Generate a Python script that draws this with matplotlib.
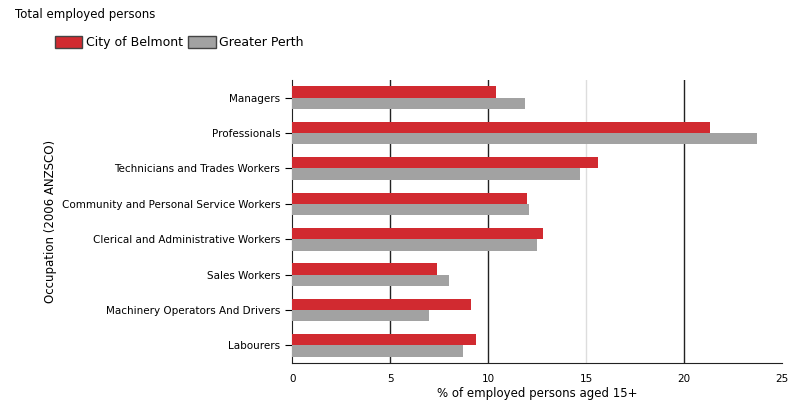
import numpy as np
import matplotlib.pyplot as plt
from matplotlib.patches import Patch

categories = ["Managers", "Professionals", "Technicians and Trades Workers",
              "Community and Personal Service Workers", "Clerical and Administrative Workers",
              "Sales Workers", "Machinery Operators And Drivers", "Labourers"]
belmont = [10.4, 21.3, 15.6, 12.0, 12.8, 7.4, 9.1, 9.4]
perth = [11.9, 23.7, 14.7, 12.1, 12.5, 8.0, 7.0, 8.7]

red = "#d12a30"
grey = "#a2a2a2"

fig = plt.figure(figsize=(7.94, 4.08), dpi=100)
ax = fig.add_axes([0.368, 0.11, 0.617, 0.694])

y = np.arange(len(categories))
h = 0.32
ax.barh(y - h / 2, belmont, height=h, color=red, zorder=3)
ax.barh(y + h / 2, perth, height=h, color=grey, zorder=3)

ax.set_ylim(len(categories) - 0.5, -0.5)
ax.set_xlim(0, 25)
ax.set_xticks([0, 5, 10, 15, 20, 25])
ax.set_yticks(y)
ax.set_yticklabels(categories, fontsize=7.5)
ax.tick_params(axis="x", labelsize=7.5, length=0, pad=8)
ax.tick_params(axis="y", length=5)
for v in [5, 10, 20]:
    ax.axvline(v, color="#222222", lw=1, zorder=1)
ax.axvline(15, color="#dddddd", lw=1, zorder=1)

for s in ["top", "right"]:
    ax.spines[s].set_visible(False)
ax.spines["left"].set_color("#222222")
ax.spines["bottom"].set_color("#222222")

ax.set_xlabel("% of employed persons aged 15+", fontsize=8.5, labelpad=2)
ax.set_ylabel("Occupation (2006 ANZSCO)", fontsize=8.5)
ax.yaxis.set_label_coords(-0.48, 0.5)

fig.text(0.019, 0.965, "Total employed persons", fontsize=8.5, va="center")
handles = [Patch(facecolor=red, edgecolor="#444444"), Patch(facecolor=grey, edgecolor="#444444")]
fig.legend(handles, ["City of Belmont", "Greater Perth"], loc="center left",
           bbox_to_anchor=(0.055, 0.895), ncol=2, frameon=False, fontsize=9,
           handlelength=2.2, handleheight=1.1, handletextpad=0.3, columnspacing=0.4)

fig.savefig("out.png", dpi=100)
